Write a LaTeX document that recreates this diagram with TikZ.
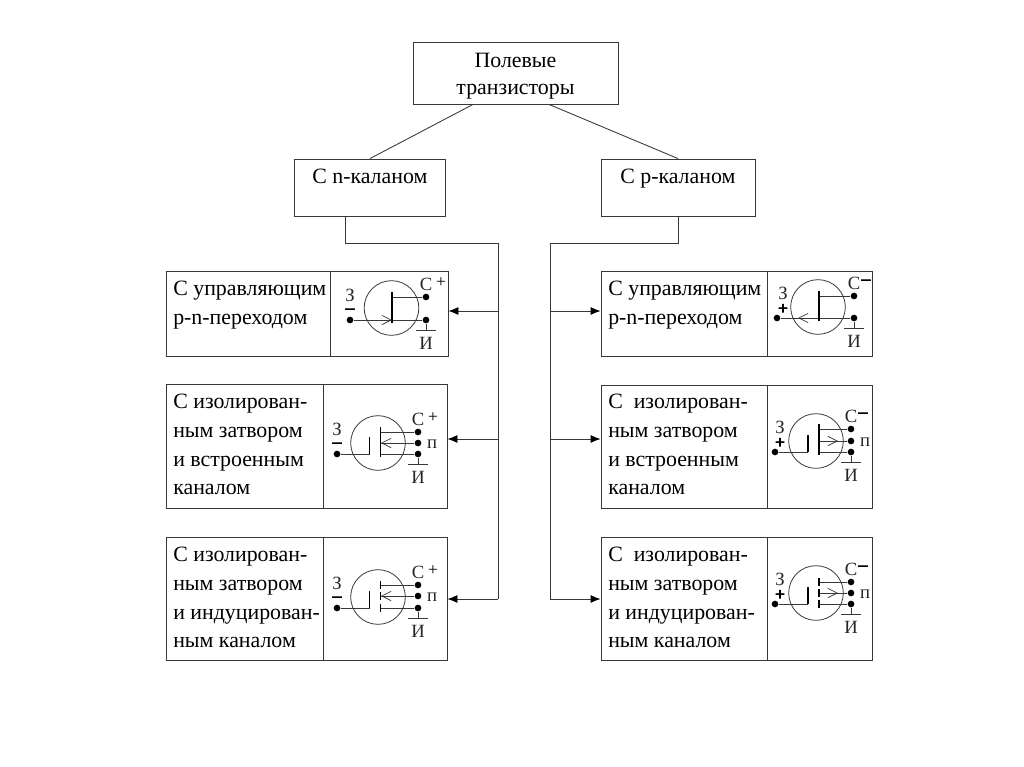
\documentclass[tikz,border=0pt]{standalone}
\usepackage{fontspec}
\setmainfont{Liberation Serif}
\newfontfamily\thickfont[FakeBold=4]{Liberation Serif}
\usetikzlibrary{arrows.meta,calc}

\definecolor{ink}{gray}{0.22}

\tikzset{
  box/.style={draw=ink,line width=0.65pt,inner sep=0pt},
  txt/.style={font=\fontsize{16.4}{21.5}\selectfont,align=left,inner sep=0pt,text=black,anchor=north west},
  ttl/.style={font=\fontsize{16.4}{20.5}\selectfont,align=center,inner sep=0pt,text=black},
  lab/.style={font=\fontsize{14}{14}\selectfont,inner sep=0pt,text=black!85},
  sgn/.style={font=\fontsize{13}{13}\selectfont,inner sep=0pt,text=black},
  dot/.style={circle,fill=black,minimum size=5pt,inner sep=0pt},
  fetc/.style={circle,draw=ink,line width=0.6pt,minimum size=41pt,inner sep=0pt},
  wire/.style={draw=ink,line width=0.55pt},
  link/.style={draw=ink,line width=0.65pt},
  bar/.style={draw=black,line width=1.05pt},
  head/.style={draw=ink,line width=0.55pt,-{Straight Barb[length=7pt,width=7pt]}},
  feed/.style={link,-{Latex[length=7.5pt,width=6pt,black]}}
}

% name, cx, cy, out x, drain y, source y, gate x, label x of gate
\newcommand{\fetbody}[8]{
  \node[fetc] (#1c) at (#2,#3) {};
  \node[dot] (#1d) at (#4,#5) {};
  \node[dot] (#1s) at (#4,#6) {};
  \node[dot] (#1g) at (#7,#6) {};
  \node[lab] (#1dl) at (#4,{#5-13}) {С};
  \node[sgn] (#1ds) at ({#4+\signdx},{#5-14}) {\signD};
  \node[lab] (#1gl) at (#8,{#6-25}) {З};
  \node[sgn] (#1gs) at (#8,{#6-9}) {\signG};
  \coordinate (#1e) at (#4,{#6+10});
  \draw[wire] (#1s) -- (#1e);
  \draw[wire] ($(#1e)+(-10,0)$) -- ($(#1e)+(10,0)$);
  \node[lab] (#1il) at (#4,{#6+23}) {И};
}
% name, bar x, arrow start x, arrow tip x
\newcommand{\jgate}[4]{
  \coordinate (#1ch) at (#2,0);
  \coordinate (#1aa) at (#3,0);
  \coordinate (#1ab) at (#4,0);
  \draw[wire] (#1g) -- (#1s);
  \draw[wire] (#1d) -- (#1ch |- #1d);
  \draw[bar] ($(#1ch |- #1d)+(0,-5)$) -- ($(#1ch |- #1s)+(0,3)$);
  \draw[head] (#1aa |- #1s) -- (#1ab |- #1s);
}
% name, out x, bulk y, channel x, arrow start x, arrow tip x
\newcommand{\bulk}[6]{
  \node[dot] (#1b) at (#2,#3) {};
  \node[lab] (#1bl) at ({#2+14},{#3+1}) {п};
  \coordinate (#1ch) at (#4,0);
  \coordinate (#1pl) at ({#4-11},0);
  \coordinate (#1aa) at (#5,0);
  \coordinate (#1ab) at (#6,0);
  \draw[wire] (#1g) -- (#1pl |- #1s);
  \draw[bar] (#1pl |- #1s) -- ($(#1pl |- #1s)+(0,-17)$);
  \draw[wire] (#1d) -- (#1ch |- #1d);
  \draw[wire] (#1b) -- (#1ch |- #1b);
  \draw[wire] (#1s) -- (#1ch |- #1s);
  \draw[head] (#1aa |- #1b) -- (#1ab |- #1b);
}

\begin{document}
\begin{tikzpicture}[x=0.75pt,y=-0.75pt]
  \useasboundingbox (0,0) rectangle (1024,767);

  % top of the tree
  \node[box,minimum width=153.75pt,minimum height=46.5pt] (top) at (515.5,73) {};
  \node[ttl] (topt) at (515.5,76) {Полевые\\транзисторы};
  \node[box,minimum width=113.25pt,minimum height=42.75pt] (nch) at (369.5,187.5) {};
  \node[txt] (ncht) at (312,169) {С n-каланом};
  \node[box,minimum width=115.5pt,minimum height=42.75pt] (pch) at (678,187.5) {};
  \node[txt] (pcht) at (620,169) {С p-каланом};
  \draw[link] (top.south -| 473,0) -- (nch.north -| 370,0);
  \draw[link] (top.south -| 549,0) -- (pch.north);

  % left column
  \node[box,minimum width=211.5pt,minimum height=63.75pt] (ln1) at (307,313.5) {};
  \node[box,minimum width=210.75pt,minimum height=93pt] (ln2) at (306.5,446) {};
  \node[box,minimum width=210.75pt,minimum height=92.25pt] (ln3) at (306.5,598.5) {};
  \draw[link] (ln1.north -| 330,0) -- (ln1.south -| 330,0);
  \draw[link] (ln2.north -| 323,0) -- (ln2.south -| 323,0);
  \draw[link] (ln3.north -| 323,0) -- (ln3.south -| 323,0);
  \node[txt] (ln1t) at (173,281) {С управляющим\\p-n-переходом};
  \node[txt] (ln2t) at (173,394) {С изолирован-\\ным затвором\\и встроенным\\каналом};
  \node[txt] (ln3t) at (173,547) {С изолирован-\\ным затвором\\и индуцирован-\\ным каналом};

  % right column
  \node[box,minimum width=203.25pt,minimum height=63.75pt] (rp1) at (736.5,313.5) {};
  \node[box,minimum width=203.25pt,minimum height=92.25pt] (rp2) at (736.5,446.5) {};
  \node[box,minimum width=203.25pt,minimum height=92.25pt] (rp3) at (736.5,598.5) {};
  \foreach \r in {rp1,rp2,rp3}
    \draw[link] (\r.north -| 767,0) -- (\r.south -| 767,0);
  \node[txt] (rp1t) at (608,281) {С управляющим\\p-n-переходом};
  \node[txt] (rp2t) at (608,394) {С\ \ изолирован-\\ным затвором\\и встроенным\\каналом};
  \node[txt] (rp3t) at (608,547) {С\ \ изолирован-\\ным затвором\\и индуцирован-\\ным каналом};

  % buses
  \coordinate (nb) at (498,243);
  \coordinate (pb) at (550,243);
  \draw[link] (nch.south -| 345,0) |- (nb) -- (498,599);
  \draw[link] (pch.south) |- (pb) -- (550,599);
  \draw[feed] (498,311) -- (ln1.east |- 0,311);
  \draw[feed] (498,439) -- (ln2.east |- 0,439);
  \draw[feed] (498,599) -- (ln3.east |- 0,599);
  \draw[feed] (550,311) -- (rp1.west |- 0,311);
  \draw[feed] (550,439) -- (rp2.west |- 0,439);
  \draw[feed] (550,599) -- (rp3.west |- 0,599);

  % transistors, n side
  \def\signD{+}\def\signG{{\thickfont –}}\def\signdx{15}
  \fetbody{a}{391.5}{308}{426}{297}{320}{350}{350}
  \jgate{a}{392}{380}{392}
  \fetbody{b}{378}{443}{418}{432}{454}{337}{337}
  \bulk{b}{418}{443}{380.5}{392}{381}
  \draw[bar] ($(bch |- bd)+(0,-5)$) -- ($(bch |- bs)+(0,3)$);
  \fetbody{c}{378}{597}{418}{585}{608}{337}{337}
  \bulk{c}{418}{596}{380.5}{392}{381}
  \foreach \t in {d,b,s}
    \draw[bar] ($(cch |- c\t)+(0,-4)$) -- ($(cch |- c\t)+(0,4)$);

  % transistors, p side
  \def\signD{{\thickfont –}}\def\signG{{\thickfont +}}\def\signdx{12}
  \fetbody{e}{818}{307}{854}{296}{318}{777}{783}
  \jgate{e}{819}{810}{798}
  \fetbody{f}{816}{441}{851}{429}{452}{775}{780}
  \bulk{f}{851}{441}{819}{826}{838}
  \draw[bar] ($(fch |- fd)+(0,-5)$) -- ($(fch |- fs)+(0,3)$);
  \fetbody{g}{816}{593}{851}{582}{604}{775}{780}
  \bulk{g}{851}{593}{819}{826}{838}
  \foreach \t in {d,b,s}
    \draw[bar] ($(gch |- g\t)+(0,-4)$) -- ($(gch |- g\t)+(0,4)$);
\end{tikzpicture}
\end{document}
